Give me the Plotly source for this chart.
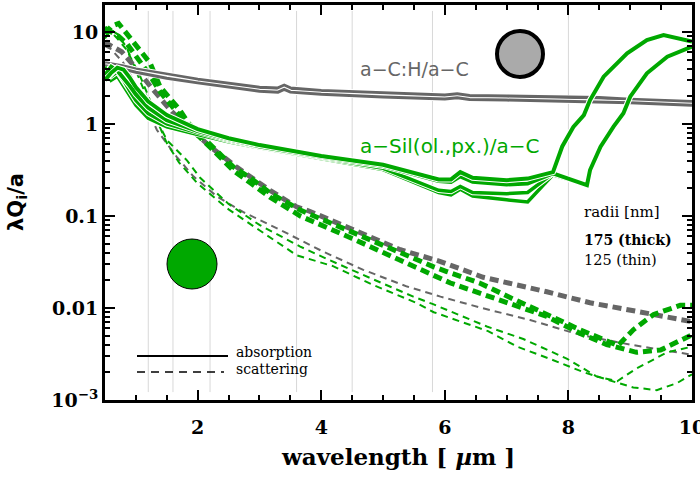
import plotly.graph_objects as go

# ---------------- data ----------------
band_wl = [1.2, 1.6, 2.2, 3.6, 4.5, 5.8, 8.0]

# a-C:H/a-C absorption
wl_ac = [0.5, 0.6, 0.8, 1.0, 1.5, 2.0, 3.0, 3.3, 3.4, 3.5, 4.0, 5.0, 6.0, 6.2, 6.4, 7.0, 8.0, 8.5, 9.0, 10.0]
abs_ac_175 = [4.6, 4.5, 4.25, 3.95, 3.45, 3.05, 2.5, 2.45, 2.62, 2.45, 2.3, 2.15, 2.05, 2.12, 2.03, 2.0, 1.93, 1.93, 1.85, 1.75]
abs_ac_125 = [4.3, 4.2, 3.95, 3.65, 3.15, 2.8, 2.27, 2.22, 2.38, 2.22, 2.1, 1.96, 1.87, 1.93, 1.85, 1.82, 1.76, 1.76, 1.7, 1.6]

# a-Sil/a-C absorption: common part + two different band paths
wl_sil = [0.5, 0.6, 0.7, 0.8, 0.9, 1.0, 1.2, 1.5, 2.0, 2.5, 3.0, 4.0, 5.0, 5.9, 6.1, 6.25, 6.45, 7.0, 7.34, 7.75]
abs_sil_ol_175 = [3.0, 3.6, 4.1, 3.9, 3.2, 2.5, 1.75, 1.25, 0.88, 0.70, 0.59, 0.45, 0.36, 0.25, 0.25, 0.30, 0.26, 0.245, 0.255, 0.30]
abs_sil_px_175 = [3.4, 4.2, 3.8, 3.2, 2.6, 2.1, 1.5, 1.1, 0.84, 0.68, 0.57, 0.44, 0.35, 0.24, 0.235, 0.27, 0.235, 0.22, 0.225, 0.29]
abs_sil_ol_125 = [3.8, 3.3, 3.7, 3.0, 2.3, 1.8, 1.3, 1.0, 0.80, 0.66, 0.56, 0.43, 0.33, 0.19, 0.185, 0.21, 0.18, 0.175, 0.18, 0.29]
abs_sil_px_125 = [4.2, 3.0, 3.3, 2.6, 2.0, 1.6, 1.15, 0.93, 0.77, 0.64, 0.55, 0.42, 0.32, 0.18, 0.17, 0.195, 0.165, 0.15, 0.142, 0.28]
wl_sil_left = [7.9, 8.08, 8.25, 8.35, 8.57, 8.95, 9.27, 9.54, 10.0]
abs_sil_left = [0.57, 0.93, 1.25, 1.82, 3.27, 5.87, 8.19, 9.27, 7.85]
wl_sil_right = [8.3, 8.35, 8.52, 8.73, 8.89, 9.0, 9.27, 9.6, 10.0]
abs_sil_right = [0.217, 0.316, 0.566, 0.935, 1.31, 1.98, 3.56, 5.39, 6.92]

# scattering
wl_sca_ac_175 = [0.5, 0.53, 0.77, 0.93, 1.26, 1.58, 2.2, 2.63, 3.17, 3.6, 3.82, 4.58, 5.28, 5.93, 6.62, 7.65, 8.35, 9.38, 10.0]
sca_ac_175 = [8.0, 7.5, 6.1, 4.6, 2.45, 1.36, 0.57, 0.34, 0.19, 0.126, 0.112, 0.067, 0.043, 0.032, 0.0216, 0.0150, 0.0114, 0.0085, 0.0071]
wl_sca_ac_125 = [0.5, 0.6, 0.8, 1.0, 1.2, 1.34, 1.66, 1.93, 2.31, 2.74, 3.33, 4.03, 4.68, 5.39, 5.93, 6.6, 7.38, 8.19, 9.0, 9.54, 10.0]
sca_ac_125 = [7.0, 6.5, 4.6, 2.7, 1.4, 0.86, 0.44, 0.27, 0.163, 0.11, 0.071, 0.041, 0.026, 0.0171, 0.0133, 0.0100, 0.0074, 0.0051, 0.0040, 0.0035, 0.0031]

wl_sca_sil_a_175 = [0.5, 0.6, 0.72, 0.85, 1.01, 1.23, 1.39, 1.71, 1.85, 2.25, 2.58, 2.85, 3.17, 3.66, 4.5, 5.82, 6.03, 6.57, 7.11, 7.65, 8.19, 8.8, 9.05, 9.38, 9.81, 10.0]
sca_sil_a_175 = [9.5, 11.5, 12.4, 9.7, 6.9, 4.6, 2.55, 1.42, 1.02, 0.56, 0.34, 0.26, 0.178, 0.116, 0.066, 0.028, 0.0249, 0.0186, 0.0125, 0.0085, 0.0058, 0.0039, 0.0058, 0.0085, 0.0107, 0.0107]
wl_sca_sil_b_175 = [0.5, 0.6, 0.72, 0.85, 1.0, 1.2, 1.4, 1.7, 1.85, 2.25, 2.58, 2.85, 3.17, 3.66, 4.5, 6.09, 6.57, 7.11, 7.65, 8.19, 8.62, 9.1, 9.49, 10.0]
sca_sil_b_175 = [11.0, 10.0, 9.0, 7.5, 5.5, 3.6, 2.2, 1.25, 0.95, 0.52, 0.31, 0.23, 0.16, 0.10, 0.057, 0.0187, 0.0146, 0.0109, 0.0081, 0.0053, 0.0040, 0.0033, 0.0035, 0.0051]

wl_sca_sil_a_125 = [0.5, 0.6, 0.7, 0.85, 1.07, 1.23, 1.34, 1.5, 1.83, 2.04, 2.5, 3.0, 3.66, 4.14, 4.79, 5.49, 5.81, 6.68, 7.27, 7.98, 8.46, 8.79, 9.1, 9.6, 10.0]
sca_sil_a_125 = [11.3, 10.0, 8.5, 6.4, 3.3, 1.8, 1.1, 0.67, 0.40, 0.26, 0.135, 0.08, 0.0465, 0.033, 0.0212, 0.0133, 0.011, 0.0063, 0.0046, 0.0028, 0.0018, 0.0016, 0.0022, 0.0033, 0.0038]
wl_sca_sil_b_125 = [0.5, 0.6, 0.7, 0.85, 1.0, 1.2, 1.5, 1.7, 2.0, 2.5, 3.0, 3.6, 4.19, 4.84, 5.55, 5.82, 6.7, 7.17, 7.7, 8.25, 8.78, 9.05, 9.43, 9.76, 10.0]
sca_sil_b_125 = [8.5, 10.5, 9.5, 6.8, 3.8, 1.8, 0.62, 0.38, 0.225, 0.118, 0.07, 0.0375, 0.0285, 0.0178, 0.0113, 0.009, 0.0056, 0.0038, 0.0028, 0.0020, 0.00155, 0.00137, 0.00128, 0.00153, 0.0019]

# ---------------- styling ----------------
GREEN = "#00a800"
GRAY = "#666666"
SERIF = "DejaVu Serif"
SANS = "DejaVu Sans"

W, H = 700, 500
L, R, T, B = 105, 692, 5, 400  # plot area in pixels


def px(xp):
    return (xp - L) / (R - L)


def py(yp):
    return (B - yp) / (B - T)


fig = go.Figure()


def line(x, y, color, width, dash="solid", outline=False):
    if outline:
        fig.add_trace(go.Scatter(x=x, y=y, mode="lines", hoverinfo="skip", showlegend=False,
                                 line=dict(color="white", width=width + 2)))
    fig.add_trace(go.Scatter(x=x, y=y, mode="lines", hoverinfo="skip", showlegend=False,
                             line=dict(color=color, width=width, dash=dash)))


THICK_DASH = "9px,5px"
THIN_DASH = "7px,5px"

# scattering (dashed)
line(wl_sca_ac_125, sca_ac_125, GRAY, 2, THIN_DASH)
line(wl_sca_sil_a_125, sca_sil_a_125, GREEN, 2, THIN_DASH)
line(wl_sca_sil_b_125, sca_sil_b_125, GREEN, 2, THIN_DASH)
line(wl_sca_ac_175, sca_ac_175, GRAY, 5, THICK_DASH)
line(wl_sca_sil_b_175, sca_sil_b_175, GREEN, 5, THICK_DASH)
line(wl_sca_sil_a_175, sca_sil_a_175, GREEN, 5, THICK_DASH)

# absorption (solid)
line(wl_ac, abs_ac_175, GRAY, 3.5, outline=True)
line(wl_ac, abs_ac_125, GRAY, 3, outline=True)
line(wl_sil + wl_sil_right, abs_sil_px_125 + abs_sil_right, GREEN, 3.5, outline=True)
line(wl_sil + wl_sil_left, abs_sil_ol_125 + abs_sil_left, GREEN, 3.5, outline=True)
line(wl_sil + wl_sil_right, abs_sil_px_175 + abs_sil_right, GREEN, 4, outline=True)
line(wl_sil + wl_sil_left, abs_sil_ol_175 + abs_sil_left, GREEN, 4, outline=True)

shapes = []
for b in band_wl:
    shapes.append(dict(type="line", xref="x", yref="paper", x0=b, x1=b, y0=0.02, y1=0.985,
                       layer="below", line=dict(color="#d8d8d8", width=1)))
# grain symbols
shapes.append(dict(type="circle", xref="paper", yref="paper",
                   x0=px(497), x1=px(543), y0=py(77), y1=py(31),
                   fillcolor="#aaaaaa", line=dict(color="black", width=4)))
shapes.append(dict(type="circle", xref="paper", yref="paper",
                   x0=px(167), x1=px(217), y0=py(289), y1=py(239),
                   fillcolor=GREEN, line=dict(color="black", width=1)))
# legend samples
shapes.append(dict(type="line", xref="paper", yref="paper", x0=px(137), x1=px(228), y0=py(356), y1=py(356),
                   line=dict(color="black", width=2)))
shapes.append(dict(type="line", xref="paper", yref="paper", x0=px(137), x1=px(224), y0=py(372), y1=py(372),
                   line=dict(color="black", width=1.5, dash="8px,6px")))

annotations = [
    dict(text="a−C:H/a−C", x=px(414), y=py(69), xanchor="center",
         font=dict(family=SANS, size=19, color=GRAY)),
    dict(text="a−Sil(ol.,px.)/a−C", x=px(450), y=py(146), xanchor="center",
         font=dict(family=SANS, size=20, color=GREEN)),
    dict(text="radii [nm]", x=px(582), y=py(212), xanchor="left", font=dict(family=SERIF, size=15, color="black")),
    dict(text="<b>175 (thick)</b>", x=px(582), y=py(240), xanchor="left", font=dict(family=SERIF, size=14, color="black")),
    dict(text="125 (thin)", x=px(582), y=py(260), xanchor="left", font=dict(family=SERIF, size=14.5, color="black")),
    dict(text="absorption", x=px(234), y=py(352), xanchor="left", font=dict(family=SERIF, size=14, color="black")),
    dict(text="scattering", x=px(234), y=py(369), xanchor="left", font=dict(family=SERIF, size=14, color="black")),
    dict(text="<b>λQ<sub>i</sub>/a</b>", x=px(17), y=py(202), xanchor="center", textangle=-90,
         font=dict(family=SANS, size=21, color="black")),
    dict(text="<b>wavelength [ <i>µ</i>m ]</b>", x=px(398), y=py(456), xanchor="center",
         font=dict(family=SERIF, size=23, color="black")),
]
for a in annotations:
    a.update(xref="paper", yref="paper", showarrow=False, yanchor="middle")

y_major = [1e-3, 1e-2, 1e-1, 1, 10]
y_major_text = ["10<sup>−3</sup>", "0.01", "0.1", "1", "10"]
y_minor = [k * 10.0 ** d for d in range(-3, 2) for k in range(2, 10) if k * 10.0 ** d < 19.6]

fig.update_layout(
    width=W, height=H,
    margin=dict(l=L, r=W - R, t=T, b=H - B, autoexpand=False),
    paper_bgcolor="white", plot_bgcolor="white",
    shapes=shapes, annotations=annotations,
    xaxis=dict(range=[0.5, 10], tickmode="linear", tick0=0, dtick=2, automargin=False,
               ticks="inside", ticklen=10, tickwidth=2, tickcolor="black", ticklabelstandoff=8,
               ticklabeloverflow="allow",
               showline=True, linewidth=3, linecolor="black", mirror="allticks",
               showgrid=False, zeroline=False,
               minor=dict(tickmode="linear", tick0=0, dtick=0.5, ticks="inside", ticklen=5,
                          tickwidth=1.5, tickcolor="black", showgrid=False),
               tickfont=dict(family=SERIF, size=19, color="black", weight="bold")),
    yaxis=dict(type="log", range=[-3, 1.2935], tickmode="array", tickvals=y_major, ticktext=y_major_text,
               automargin=False, ticklabeloverflow="allow",
               ticks="inside", ticklen=10, tickwidth=2, tickcolor="black",
               showline=True, linewidth=3, linecolor="black", mirror="allticks",
               showgrid=False, zeroline=False,
               minor=dict(tickmode="array", tickvals=y_minor, ticks="inside", ticklen=5,
                          tickwidth=1.5, tickcolor="black", showgrid=False),
               tickfont=dict(family=SERIF, size=19, color="black", weight="bold")),
)

fig.write_html("out.html", config={"displayModeBar": False},
               post_script="document.body.style.margin='0';document.body.style.overflow='hidden';")
